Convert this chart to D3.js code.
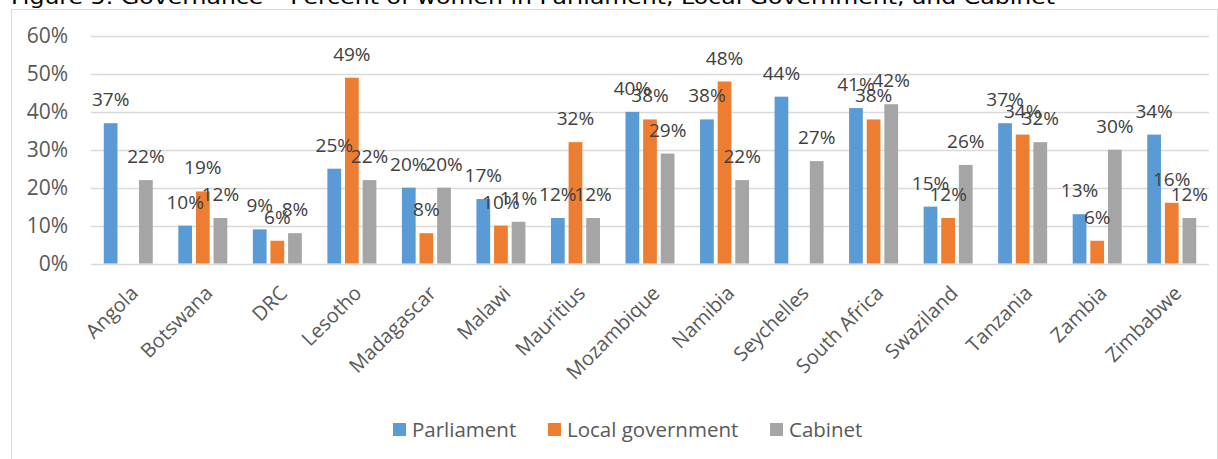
<!DOCTYPE html>
<html>
<head>
<meta charset="utf-8">
<script src="https://cdn.jsdelivr.net/npm/d3@7"></script>
<style>
  body { margin: 0; background: #fff; }
  svg { display: block; }
</style>
</head>
<body>
<div id="chart"></div>
<script>
// chart data
var countries = ["Angola", "Botswana", "DRC", "Lesotho", "Madagascar", "Malawi", "Mauritius",
  "Mozambique", "Namibia", "Seychelles", "South Africa", "Swaziland", "Tanzania", "Zambia", "Zimbabwe"];
var parliament = [37, 10, 9, 25, 20, 17, 12, 40, 38, 44, 41, 15, 37, 13, 34];
var localGov = [null, 19, 6, 49, 8, 10, 32, 38, 48, null, 38, 12, 34, 6, 16];
var cabinet = [22, 12, 8, 22, 20, 11, 12, 29, 22, 27, 42, 26, 32, 30, 12];
var seriesNames = ["Parliament", "Local government", "Cabinet"];
var colors = ["#5B9BD5", "#ED7D31", "#A5A5A5"];
var yTicks = [0, 10, 20, 30, 40, 50, 60];

var svgWidth = 1218;
var svgHeight = 459;

var margin = { top: 36, right: 9, bottom: 195, left: 91 };
var width = svgWidth - margin.left - margin.right;
var height = 263.5 - margin.top;

var svg = d3.select("#chart")
  .append("svg")
  .attr("width", svgWidth)
  .attr("height", svgHeight)
  .style("font-family", "'Open Sans', sans-serif");

// title (cut off at top in the original)
svg.append("text")
  .attr("x", 11)
  .attr("y", 4)
  .attr("textLength", 1044)
  .attr("lengthAdjust", "spacingAndGlyphs")
  .style("font-family", "'DejaVu Sans', sans-serif")
  .style("font-size", "19px")
  .style("fill", "#000")
  .text("Figure 5: Governance \u2013 Percent of women in Parliament, Local Government, and Cabinet");

// chart frame
svg.append("rect")
  .attr("x", 11.5)
  .attr("y", 9.5)
  .attr("width", 1206)
  .attr("height", 460)
  .attr("fill", "none")
  .attr("stroke", "#D9D9D9")
  .attr("stroke-width", 1);

var chartGroup = svg.append("g")
  .attr("transform", `translate(${margin.left}, ${margin.top})`);

var x0 = d3.scaleBand()
  .domain(countries)
  .range([0, width]);

var x1 = d3.scaleBand()
  .domain(seriesNames)
  .range([x0.bandwidth() / 2 - 24.5, x0.bandwidth() / 2 + 24.5])
  .paddingInner(0.22);

var y = d3.scaleLinear()
  .domain([0, 60])
  .range([height, 0]);

// gridlines
chartGroup.append("g")
  .selectAll("line")
  .data(yTicks)
  .enter()
  .append("line")
  .attr("x1", 0)
  .attr("x2", width)
  .attr("y1", d => Math.round(y(d)) + 0.5)
  .attr("y2", d => Math.round(y(d)) + 0.5)
  .attr("stroke", "#D9D9D9")
  .attr("stroke-width", 1.3);

// y axis labels
var leftAxis = d3.axisLeft(y)
  .tickValues(yTicks)
  .tickFormat(d => d + "%")
  .tickSize(0)
  .tickPadding(23);

var yAxis = chartGroup.append("g").call(leftAxis);
yAxis.select(".domain").remove();
yAxis.selectAll("text")
  .style("font-family", "'Open Sans', sans-serif")
  .style("font-size", "21px")
  .style("fill", "#595959");

// bars
var series = [parliament, localGov, cabinet];
var barData = [];
countries.forEach(function (c, i) {
  series.forEach(function (s, j) {
    if (s[i] !== null) {
      barData.push({ country: c, name: seriesNames[j], value: s[i], color: colors[j] });
    }
  });
});

chartGroup.selectAll("rect.bar")
  .data(barData)
  .enter()
  .append("rect")
  .attr("class", "bar")
  .attr("x", d => x0(d.country) + x1(d.name))
  .attr("y", d => y(d.value))
  .attr("width", x1.bandwidth())
  .attr("height", d => height - y(d.value))
  .attr("fill", d => d.color);

// data labels
chartGroup.selectAll("text.lbl")
  .data(barData)
  .enter()
  .append("text")
  .attr("class", "lbl")
  .attr("x", d => x0(d.country) + x1(d.name) + x1.bandwidth() / 2)
  .attr("y", d => y(d.value) - 17)
  .attr("text-anchor", "middle")
  .style("font-size", "19px")
  .style("fill", "#404040")
  .text(d => d.value + "%");

// category labels, rotated
chartGroup.append("g")
  .selectAll("text")
  .data(countries)
  .enter()
  .append("text")
  .attr("transform", d => `translate(${x0(d) + x0.bandwidth() / 2 + 11}, ${height + 31}) rotate(-45)`)
  .attr("text-anchor", "end")
  .style("font-size", "20px")
  .style("fill", "#595959")
  .text(d => d);

// legend
var legendItems = [
  { name: "Parliament", color: colors[0], x: 393 },
  { name: "Local government", color: colors[1], x: 548 },
  { name: "Cabinet", color: colors[2], x: 770 }
];

var legend = svg.append("g");
legend.selectAll("rect")
  .data(legendItems)
  .enter()
  .append("rect")
  .attr("x", d => d.x)
  .attr("y", 423)
  .attr("width", 13)
  .attr("height", 13)
  .attr("fill", d => d.color);

legend.selectAll("text")
  .data(legendItems)
  .enter()
  .append("text")
  .attr("x", d => d.x + 19)
  .attr("y", 437)
  .style("font-size", "20.5px")
  .style("fill", "#595959")
  .text(d => d.name);
</script>
</body>
</html>
